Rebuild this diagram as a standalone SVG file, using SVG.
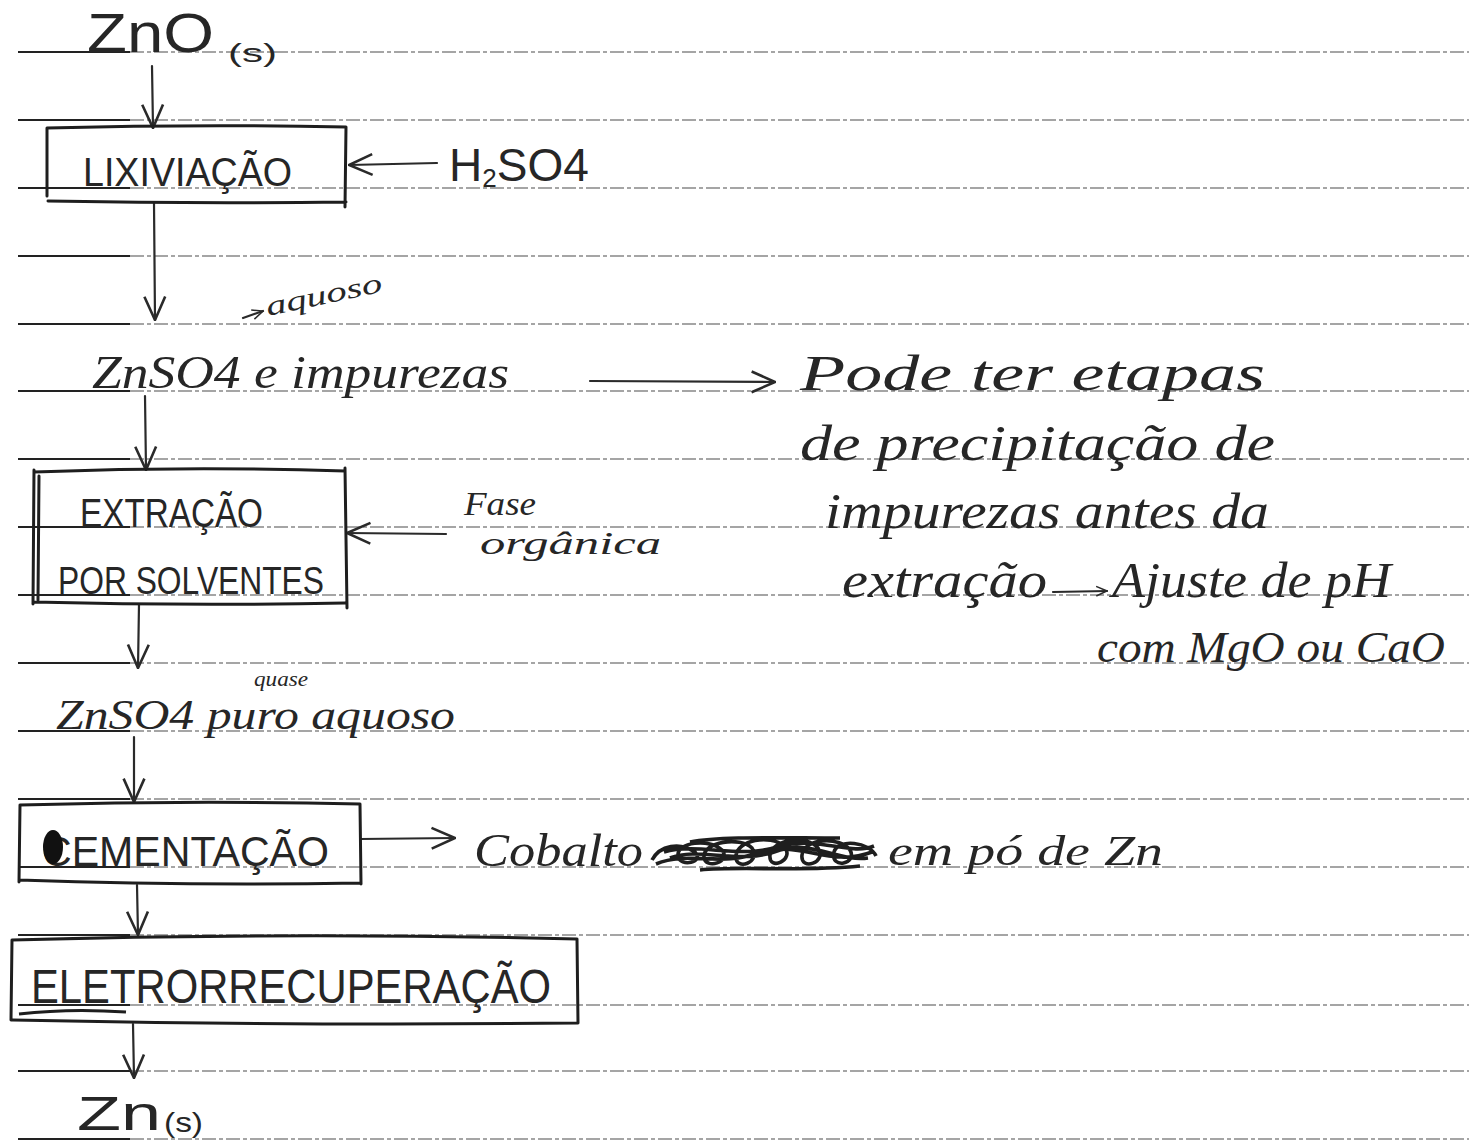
<svg xmlns="http://www.w3.org/2000/svg" width="1469" height="1147" viewBox="0 0 1469 1147">
<defs>
<style>
.rl{stroke:#888;stroke-width:1.3;stroke-dasharray:14 3 4 3;fill:none}
.rs{stroke:#222;stroke-width:2;fill:none}
.bx{stroke:#1e1e1e;stroke-width:3;fill:none;stroke-linejoin:round;stroke-linecap:round}
.cn{stroke:#2a2a2a;stroke-width:2.2;fill:none;stroke-linecap:round}
.t{font-family:"Liberation Sans",Arial,sans-serif;fill:#262626}
.c{font-family:"Liberation Serif","DejaVu Serif",serif;font-style:italic;fill:#262626}
</style>
<marker id="v" viewBox="0 0 20 20" refX="19" refY="10" markerWidth="26" markerHeight="26" markerUnits="userSpaceOnUse" orient="auto">
<path d="M1,2 L19,10 L1,18" fill="none" stroke="#2a2a2a" stroke-width="2"/>
</marker>
<marker id="vs" viewBox="0 0 20 20" refX="19" refY="10" markerWidth="12" markerHeight="12" markerUnits="userSpaceOnUse" orient="auto">
<path d="M1,2 L19,10 L1,18" fill="none" stroke="#2a2a2a" stroke-width="2.5"/>
</marker>
</defs>
<rect width="1469" height="1147" fill="#ffffff"/>
<g id="ruled-lines">
<path class="rl" d="M130,52H1469M130,120H1469M130,188H1469M130,256H1469M130,324H1469M130,391H1469M130,459H1469M130,527H1469M130,595H1469M130,663H1469M130,731H1469M130,799H1469M130,867H1469M130,935H1469M130,1005H1469M130,1071H1469M130,1139H1469"/>
<path class="rs" d="M18,52H130M18,120H130M18,188H130M18,256H130M18,324H130M18,391H130M18,459H130M18,527H130M18,595H130M18,663H130M18,731H130M18,799H130M18,867H130M18,935H130M18,1005H130M18,1071H130M18,1139H130"/>
</g>
<g id="connectors">
<path class="cn" d="M152,66 L153,128" marker-end="url(#v)"/>
<path class="cn" d="M437,163 L349,165" marker-end="url(#v)"/>
<path class="cn" d="M154,203 L155,320" marker-end="url(#v)"/>
<path class="cn" d="M243,318 L263,311" marker-end="url(#vs)"/>
<path class="cn" d="M590,381 L775,382" marker-end="url(#v)"/>
<path class="cn" d="M145,396 L146,470" marker-end="url(#v)"/>
<path class="cn" d="M446,534 L347,533" marker-end="url(#v)"/>
<path class="cn" d="M139,604 L138,668" marker-end="url(#v)"/>
<path class="cn" d="M1053,592 L1107,591" marker-end="url(#vs)"/>
<path class="cn" d="M134,737 L134,802" marker-end="url(#v)"/>
<path class="cn" d="M360,839 L455,838" marker-end="url(#v)"/>
<path class="cn" d="M137,885 L138,935" marker-end="url(#v)"/>
<path class="cn" d="M133,1024 L134,1078" marker-end="url(#v)"/>
</g>
<g id="zno">
<text class="t" x="87" y="52" font-size="56" textLength="127" lengthAdjust="spacingAndGlyphs">ZnO</text>
<text class="t" x="228" y="62" font-size="26" textLength="49" lengthAdjust="spacingAndGlyphs">(s)</text>
</g>
<g id="lixiviacao">
<path class="bx" d="M47,128 Q200,124 346,127 M346,127 L345,207 M48,201 Q200,204 346,202 M47,128 L47,196"/>
<text class="t" x="83" y="186" font-size="40" textLength="209" lengthAdjust="spacingAndGlyphs">LIXIVIAÇÃO</text>
</g>
<g id="h2so4">
<text class="t" x="449" y="181" font-size="46">H<tspan font-size="26" dy="6">2</tspan><tspan dy="-6">SO4</tspan></text>
</g>
<g id="aquoso-note">
<text class="c" x="268" y="316" font-size="28" transform="rotate(-12 268 316)" textLength="118" lengthAdjust="spacingAndGlyphs">aquoso</text>
</g>
<g id="znso4-impurezas">
<text class="c" x="92" y="388" font-size="46" textLength="417" lengthAdjust="spacingAndGlyphs">ZnSO4 e impurezas</text>
</g>
<g id="nota-precipitacao">
<text class="c" x="800" y="390" font-size="50" textLength="465" lengthAdjust="spacingAndGlyphs">Pode ter etapas</text>
<text class="c" x="800" y="460" font-size="50" textLength="475" lengthAdjust="spacingAndGlyphs">de precipitação de</text>
<text class="c" x="825" y="528" font-size="50" textLength="444" lengthAdjust="spacingAndGlyphs">impurezas antes da</text>
<text class="c" x="842" y="597" font-size="50" textLength="205" lengthAdjust="spacingAndGlyphs">extração</text>
<text class="c" x="1112" y="597" font-size="50" textLength="279" lengthAdjust="spacingAndGlyphs">Ajuste de pH</text>
<text class="c" x="1097" y="662" font-size="44" textLength="348" lengthAdjust="spacingAndGlyphs">com MgO ou CaO</text>
</g>
<g id="extracao">
<path class="bx" d="M34,472 Q190,466 345,471 M345,468 L347,608 M33,602 Q190,606 345,603 M34,470 L33,604 M39,476 L38,600"/>
<text class="t" x="80" y="527" font-size="40" textLength="183" lengthAdjust="spacingAndGlyphs">EXTRAÇÃO</text>
<text class="t" x="58" y="594" font-size="38" textLength="266" lengthAdjust="spacingAndGlyphs">POR SOLVENTES</text>
</g>
<g id="fase-organica">
<text class="c" x="464" y="515" font-size="34" textLength="72" lengthAdjust="spacingAndGlyphs">Fase</text>
<text class="c" x="480" y="554" font-size="32" textLength="181" lengthAdjust="spacingAndGlyphs">orgânica</text>
</g>
<g id="znso4-puro">
<text class="c" x="254" y="686" font-size="22" textLength="54" lengthAdjust="spacingAndGlyphs">quase</text>
<text class="c" x="56" y="729" font-size="42" textLength="399" lengthAdjust="spacingAndGlyphs">ZnSO4 puro aquoso</text>
</g>
<g id="cementacao">
<path class="bx" d="M20,805 Q190,800 360,804 M360,804 L361,884 M19,880 Q190,886 360,883 M20,805 L19,882"/>
<text class="t" x="42" y="866" font-size="42" textLength="287" lengthAdjust="spacingAndGlyphs">CEMENTAÇÃO</text>
<ellipse cx="53" cy="847" rx="10" ry="17" fill="#111"/>
</g>
<g id="cobalto">
<text class="c" x="474" y="866" font-size="46" textLength="169" lengthAdjust="spacingAndGlyphs">Cobalto</text>
<path d="M652,860 C660,845 680,842 695,852 C705,862 680,868 678,856 C676,842 710,838 722,850 C732,862 705,870 704,857 C703,842 740,836 752,848 C762,862 735,872 736,856 C737,840 770,834 784,846 C796,860 768,872 770,855 C772,840 806,834 818,848 C828,862 800,872 802,855 C804,838 840,836 850,850 C858,864 830,870 834,852 C838,838 870,842 876,856 M656,864 C690,850 720,868 760,852 C800,840 830,868 872,852 M664,852 C700,842 740,860 780,846 C820,836 850,856 874,846 M690,842 C720,836 780,838 840,838 M700,870 C740,866 800,872 860,866 M670,858 C700,846 740,866 780,850 C810,840 840,862 868,858" fill="none" stroke="#1e1e1e" stroke-width="3.6"/>
<text class="c" x="888" y="865" font-size="42" textLength="275" lengthAdjust="spacingAndGlyphs">em pó de Zn</text>
</g>
<g id="eletrorrecuperacao">
<path class="bx" d="M12,940 Q300,932 577,939 M577,939 L578,1023 M13,1020 Q300,1026 578,1023 M12,940 L11,1020"/>
<text class="t" x="31" y="1003" font-size="48" textLength="520" lengthAdjust="spacingAndGlyphs">ELETRORRECUPERAÇÃO</text>
<path d="M19,1014 Q70,1008 126,1012" fill="none" stroke="#1e1e1e" stroke-width="3"/>
</g>
<g id="zn">
<text class="t" x="77" y="1130" font-size="48" textLength="84" lengthAdjust="spacingAndGlyphs">Zn</text>
<text class="t" x="164" y="1132" font-size="28" textLength="39" lengthAdjust="spacingAndGlyphs">(s)</text>
</g>
</svg>
